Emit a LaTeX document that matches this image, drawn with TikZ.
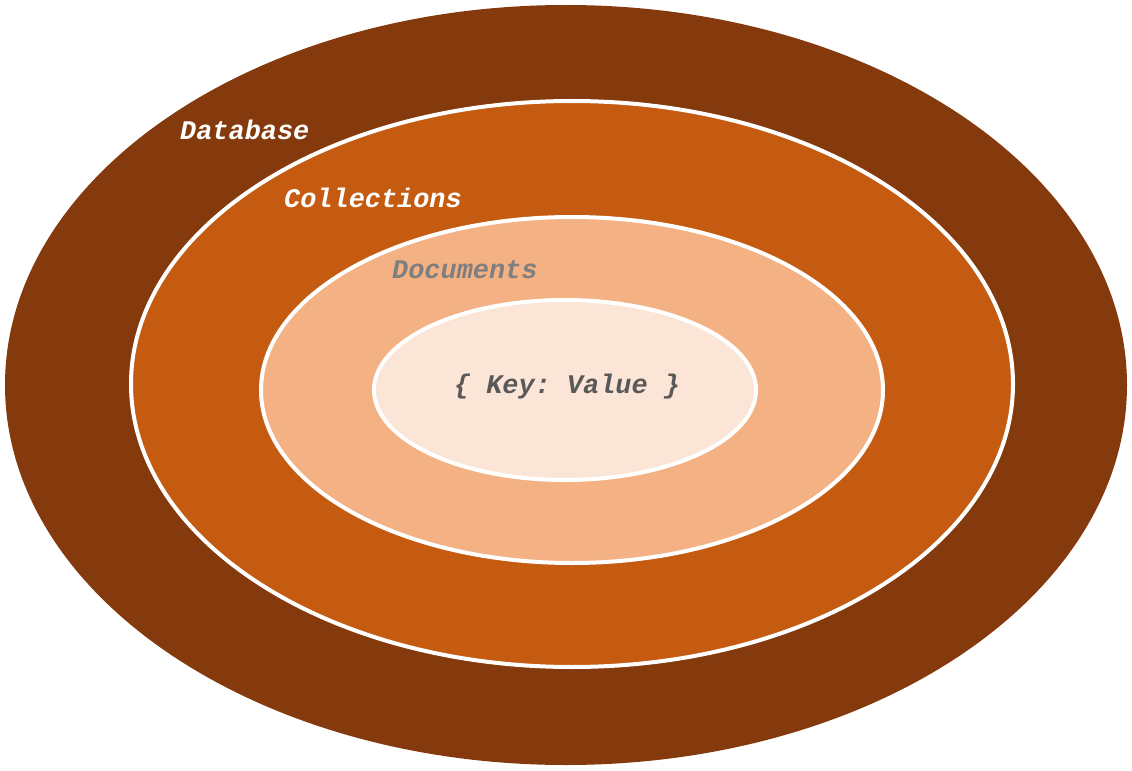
\documentclass[tikz,border=0pt]{standalone}
\usepackage{fontspec}
\setmonofont{Liberation Mono}
\definecolor{dbc}{HTML}{843A0C}
\definecolor{colc}{HTML}{C55A11}
\definecolor{docc}{HTML}{F4B183}
\definecolor{kvc}{HTML}{FBE5D6}
\definecolor{gtext}{HTML}{7F7F7F}
\definecolor{dtext}{HTML}{595959}
\begin{document}
\begin{tikzpicture}[x=1bp,y=-1bp,
  ring/.style={draw=white,line width=4bp},
  lab/.style={font=\fontsize{27}{30}\selectfont\ttfamily\bfseries\itshape,inner sep=0pt,anchor=west}]
\useasboundingbox (0,0) rectangle (1132,771);
\fill[dbc] (566,385) ellipse [x radius=561,y radius=380];
\filldraw[ring,fill=colc] (572,384) ellipse [x radius=441,y radius=283];
\filldraw[ring,fill=docc] (572,390) ellipse [x radius=311,y radius=173];
\filldraw[ring,fill=kvc] (565,390) ellipse [x radius=191,y radius=90];
\node[lab,text=white] (db) at (180,130) {Database};
\node[lab,text=white] (col) at (284,198) {Collections};
\node[lab,text=gtext] (doc) at (392,270) {Documents};
\node[lab,text=dtext,anchor=center] (kv) at (567,387) {\{ Key: Value \}};
\end{tikzpicture}
\end{document}
